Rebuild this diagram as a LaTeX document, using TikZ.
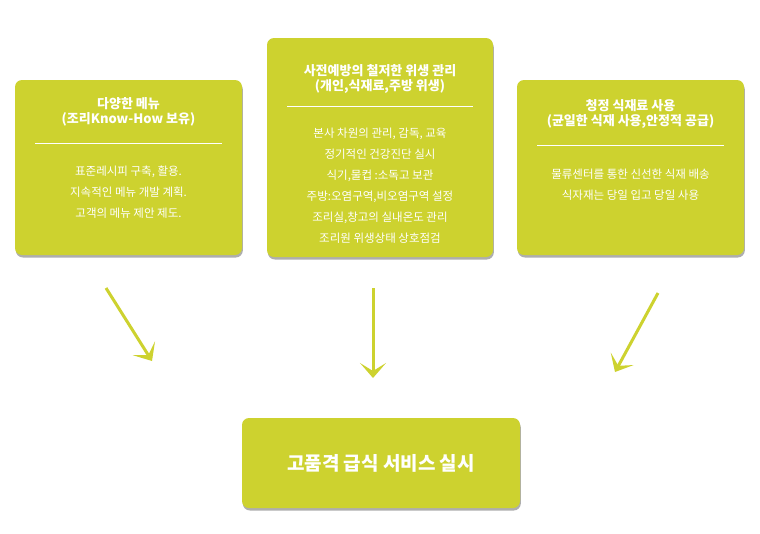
\documentclass[tikz,border=0pt]{standalone}
\usepackage{fontspec}
\setmainfont{Noto Sans CJK KR}
\usetikzlibrary{arrows.meta,shadows}
\definecolor{lime}{HTML}{CDD22F}
\tikzset{
 box/.style={fill=lime,rounded corners=7pt,draw=none,drop shadow={shadow xshift=0.8pt,shadow yshift=-2.5pt,opacity=0.45,fill=black!70}},
 ttl/.style={text=white,font=\fontsize{13}{15}\selectfont\bfseries,align=center},
 bdy/.style={text=white,font=\fontsize{11.5}{21}\selectfont,align=center},
 sep/.style={draw=white,line width=0.6pt},
 arr/.style={draw=lime,line width=3pt,-{Stealth[length=15pt,width=26pt,inset=8pt]}}
}
\begin{document}
\begin{tikzpicture}[x=1pt,y=-1pt]
\useasboundingbox (0,0) rectangle (760,533);
\node[box,minimum width=227pt,minimum height=175pt] (L) at (128.5,167.5) {};
\node[box,minimum width=226pt,minimum height=219pt] (C) at (380,147.5) {};
\node[box,minimum width=227pt,minimum height=175pt] (R) at (630.5,167.5) {};
\node[box,minimum width=278pt,minimum height=90pt] (B) at (381,463) {};
\node[ttl] (Lt) at (128.5,112) {다양한 메뉴\\(조리Know-How 보유)};
\draw[sep] (35,143) -- (222,143);
\node[bdy] (Lb) at (128.5,192) {표준레시피 구축, 활용.\\지속적인 메뉴 개발 계획.\\고객의 메뉴 제안 제도.};
\node[ttl] (Ct) at (380,79) {사전예방의 철저한 위생 관리\\(개인,식재료,주방 위생)};
\draw[sep] (287,106) -- (473,106);
\node[bdy] (Cb) at (380,186) {본사 차원의 관리, 감독, 교육\\정기적인 건강진단 실시\\식기,물컵 :소독고 보관\\주방:오염구역,비오염구역 설정\\조리실,창고의 실내온도 관리\\조리원 위생상태 상호점검};
\node[ttl] (Rt) at (630.5,114) {청정 식재료 사용\\(균일한 식재 사용,안정적 공급)};
\draw[sep] (537,145) -- (724,145);
\node[bdy] (Rb) at (630.5,185) {물류센터를 통한  신선한 식재 배송\\식자재는 당일 입고 당일 사용};
\node[text=white,font=\fontsize{19}{22}\selectfont\bfseries] (Bt) at (381,463) {고품격 급식 서비스 실시};
\coordinate (a1s) at (106,288); \coordinate (a1e) at (152,361);
\coordinate (a2s) at (373,288); \coordinate (a2e) at (373,378);
\coordinate (a3s) at (658,293); \coordinate (a3e) at (615,372);
\draw[arr] (a1s) -- (a1e);
\draw[arr] (a2s) -- (a2e);
\draw[arr] (a3s) -- (a3e);
\end{tikzpicture}
\end{document}
